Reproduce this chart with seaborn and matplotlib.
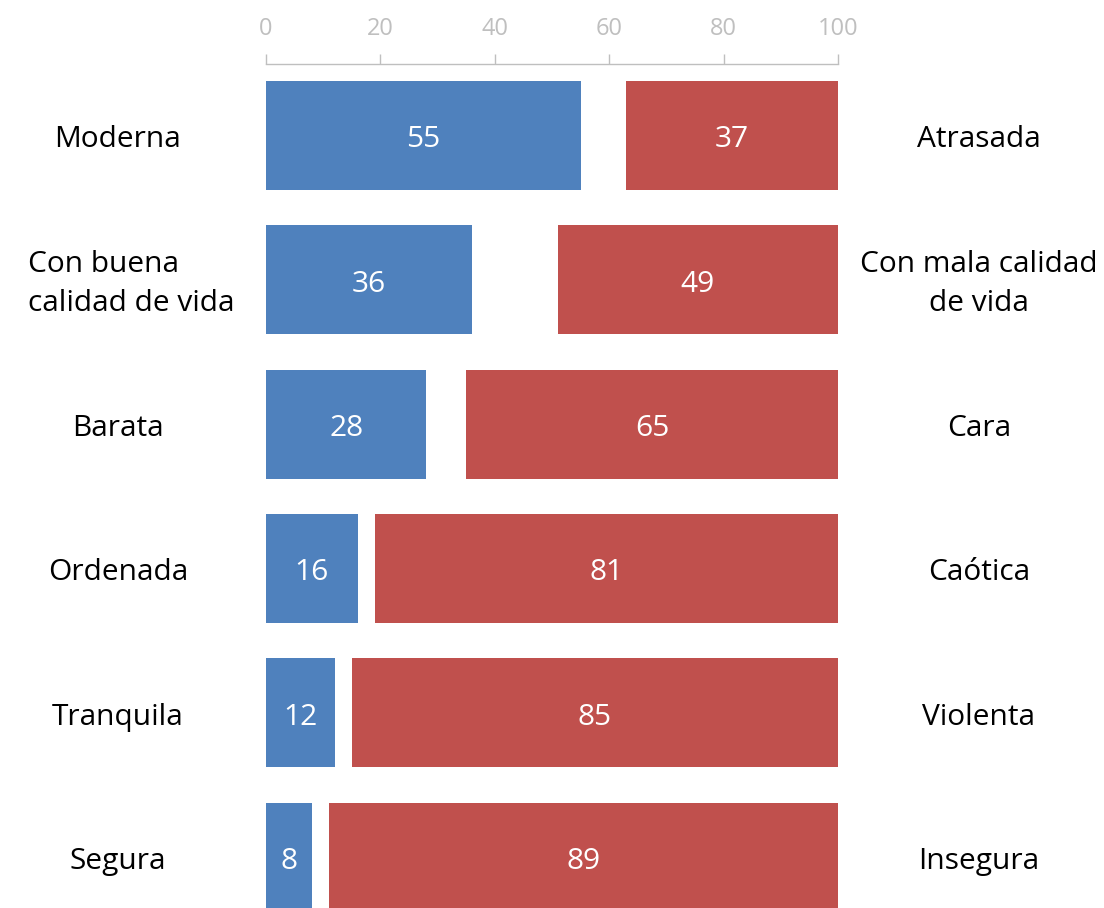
import matplotlib
matplotlib.use("Agg")
import matplotlib.pyplot as plt
import seaborn as sns
import pandas as pd

left_labels = ["Moderna", "Con buena\ncalidad de vida", "Barata", "Ordenada", "Tranquila", "Segura"]
right_labels = ["Atrasada", "Con mala calidad\nde vida", "Cara", "Caótica", "Violenta", "Insegura"]
positive = [55, 36, 28, 16, 12, 8]
negative = [37, 49, 65, 81, 85, 89]
ticks = [0, 20, 40, 60, 80, 100]

BLUE = "#4F81BD"
RED = "#C0504D"
FONT = "Open Sans"

sns.set_theme(style="white")
plt.rcParams["font.family"] = [FONT, "DejaVu Sans"]

W, H = 1104, 908
fig = plt.figure(figsize=(W / 100, H / 100), dpi=100)
ax = fig.add_axes([266 / W, 0, (838 - 266) / W, (908 - 64) / H])

df = pd.DataFrame({"cat": left_labels, "pos": positive, "neg": negative})
bh = 0.755
sns.barplot(data=df, y="cat", x="pos", color=BLUE, saturation=1, width=bh,
            orient="h", ax=ax, edgecolor="none")
ypos = list(range(len(left_labels)))
ax.barh(ypos, df["neg"], left=[100 - v for v in df["neg"]], height=bh,
        color=RED, edgecolor="none")

ax.set_xlim(0, 100)
ax.set_ylim(5.353, -0.4955)
ax.xaxis.tick_top()
ax.set_xticks(ticks)
ax.set_xticklabels([str(t) for t in ticks], color="#BFBFBF", fontsize=17)
ax.tick_params(axis="x", which="both", top=True, direction="out", length=7.5,
               width=1, color="#BFBFBF", pad=9)
ax.set_yticks([])
ax.set_xlabel("")
ax.set_ylabel("")
for s in ["left", "right", "bottom"]:
    ax.spines[s].set_visible(False)
ax.spines["top"].set_color("#BFBFBF")
ax.spines["top"].set_linewidth(1)

dy = 0.03
for i, (p, n) in enumerate(zip(positive, negative)):
    ax.text(p / 2, i + dy, str(p), ha="center", va="center", color="white", fontsize=21.5)
    ax.text(100 - n / 2, i + dy, str(n), ha="center", va="center", color="white", fontsize=21.5)
    lx = -23.5 if "\n" in left_labels[i] else -25.9
    ax.text(lx, i + dy, left_labels[i], ha="center", va="center", color="black",
            fontsize=21.5, linespacing=1.45, multialignment="left")
    ax.text(124.65, i + dy, right_labels[i], ha="center", va="center", color="black",
            fontsize=21.5, linespacing=1.45, multialignment="center")

fig.savefig("out.png", dpi=100)
